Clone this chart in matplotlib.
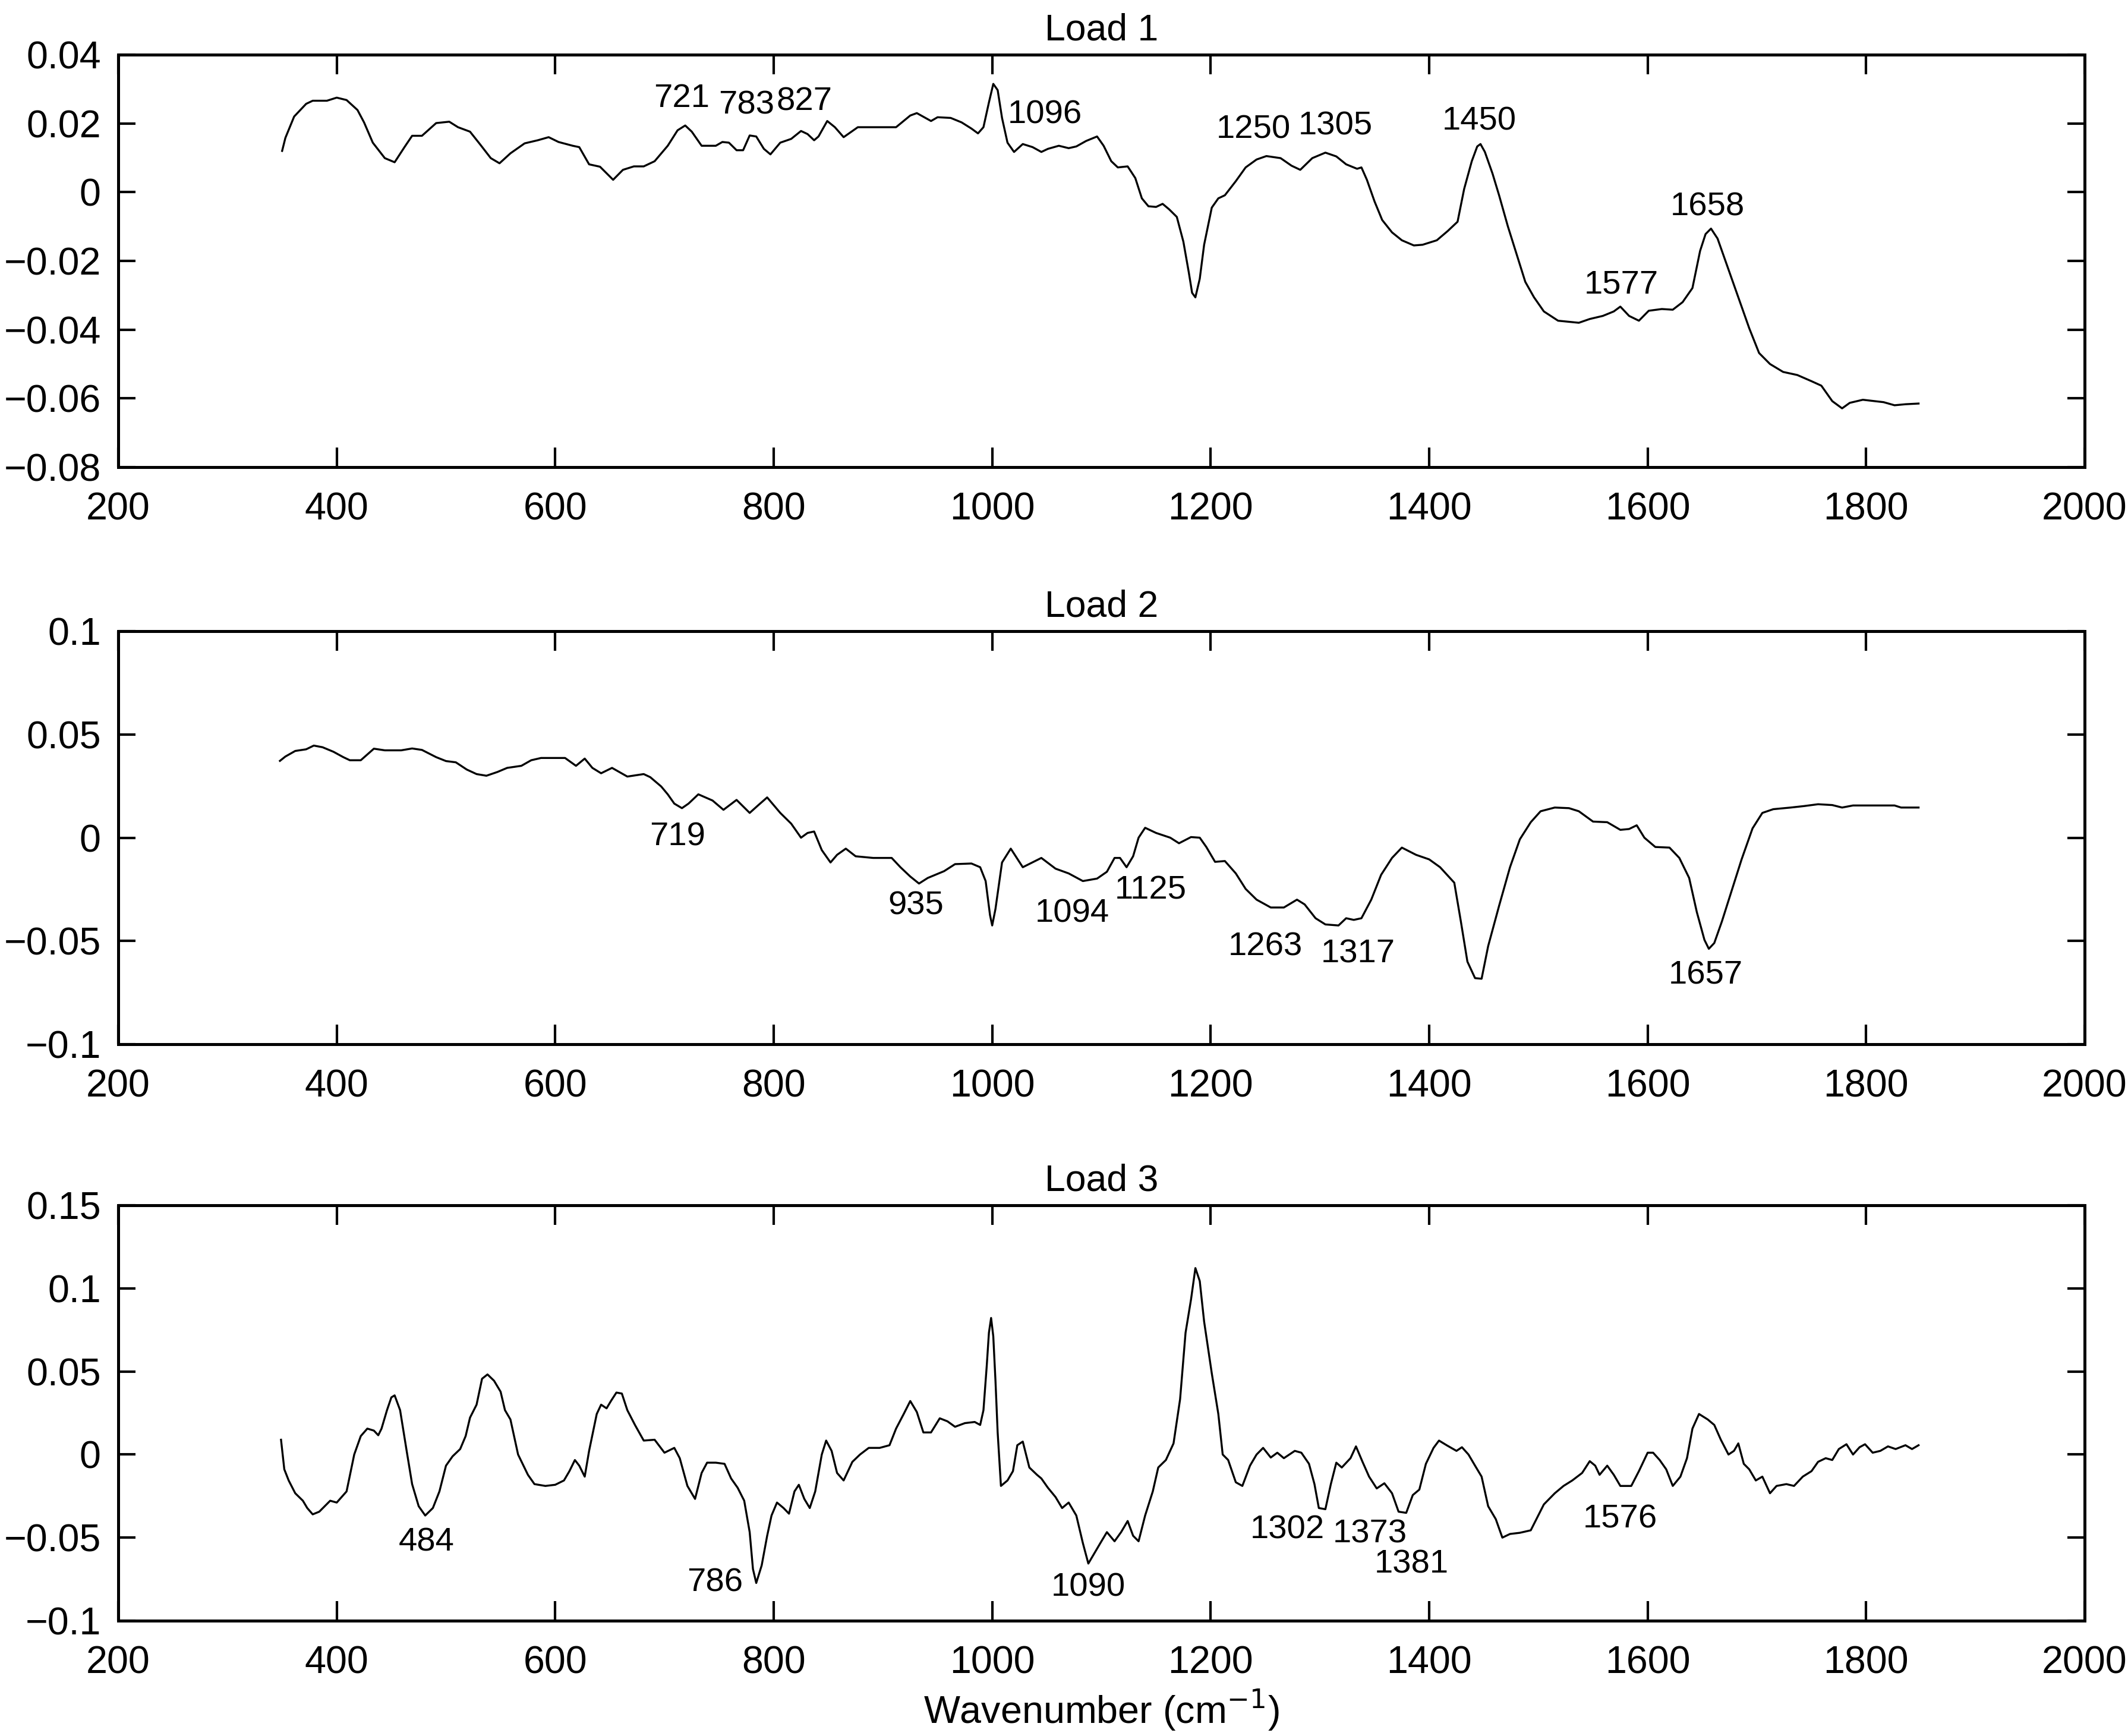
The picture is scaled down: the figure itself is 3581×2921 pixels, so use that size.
import matplotlib
matplotlib.use("Agg")
import matplotlib.pyplot as plt
from matplotlib.ticker import FuncFormatter, MultipleLocator

plt.rcParams['font.family'] = ['Liberation Sans', 'DejaVu Sans']

# ---------------- data ----------------
load1_wn = [350, 353, 361, 372, 378, 391, 400, 409, 419, 425, 433, 444, 453, 462, 469, 478, 491, 503, 511, 522,
            531, 541, 549, 559, 572, 584, 594, 603, 616, 622, 631, 641, 653, 662, 672, 681, 691, 703, 712, 719,
            725, 734, 747, 753, 759, 766, 772, 778, 784, 791, 797, 806, 816, 825, 831, 837, 841, 849, 856, 864,
            877, 912, 925, 931, 944, 950, 962, 972, 981, 987, 992, 997, 1001, 1005, 1009, 1014, 1020, 1028, 1037,
            1045, 1051, 1061, 1070, 1077, 1086, 1096, 1102, 1109, 1115, 1124, 1131, 1137, 1143, 1150, 1156, 1162,
            1169, 1175, 1180, 1183, 1186, 1190, 1194, 1201, 1207, 1213, 1223, 1232, 1242, 1251, 1264, 1274, 1282,
            1293, 1305, 1315, 1324, 1334, 1338, 1343, 1350, 1357, 1366, 1375, 1386, 1394, 1407, 1417, 1426, 1432,
            1439, 1444, 1447, 1451, 1458, 1464, 1472, 1480, 1488, 1496, 1505, 1518, 1537, 1547, 1559, 1569, 1575,
            1583, 1592, 1601, 1613, 1623, 1632, 1641, 1648, 1653, 1658, 1664, 1674, 1683, 1693, 1702, 1712, 1724,
            1737, 1750, 1759, 1769, 1778, 1785, 1797, 1816, 1826, 1836, 1848]
load1_val = [0.012, 0.0158, 0.022, 0.0257, 0.0266, 0.0266, 0.0275, 0.0268, 0.0239, 0.0203, 0.0144, 0.0099, 0.0087,
             0.0131, 0.0164, 0.0164, 0.0201, 0.0205, 0.0189, 0.0176, 0.014, 0.0099, 0.0084, 0.0113, 0.0142, 0.0151,
             0.016, 0.0146, 0.0135, 0.0131, 0.0081, 0.0074, 0.0036, 0.0065, 0.0075, 0.0075, 0.009, 0.0135, 0.018,
             0.0194, 0.0176, 0.0135, 0.0135, 0.0146, 0.0144, 0.0122, 0.0122, 0.0165, 0.0162, 0.0126, 0.011, 0.0144,
             0.0155, 0.0178, 0.0169, 0.0151, 0.0162, 0.0207, 0.0189, 0.016, 0.0189, 0.0189, 0.0223, 0.023, 0.0207,
             0.0218, 0.0216, 0.0203, 0.0185, 0.0171, 0.0189, 0.0261, 0.0315, 0.0297, 0.0216, 0.0144, 0.0117, 0.014,
             0.0131, 0.0117, 0.0126, 0.0135, 0.0128, 0.0133, 0.0149, 0.0162, 0.0135, 0.009, 0.0072, 0.0075, 0.0041,
             -0.0018, -0.0041, -0.0043, -0.0034, -0.005, -0.0072, -0.0144, -0.0234, -0.0293, -0.0306, -0.0252,
             -0.0153, -0.0045, -0.0018, -0.0009, 0.0032, 0.0072, 0.0095, 0.0105, 0.0099, 0.0077, 0.0065, 0.0099,
             0.0115, 0.0104, 0.0081, 0.0068, 0.0072, 0.0036, -0.0027, -0.0081, -0.0117, -0.014, -0.0155, -0.0153,
             -0.014, -0.0113, -0.0086, 0.0009, 0.009, 0.0133, 0.014, 0.0117, 0.0054, -0.0009, -0.0099, -0.018,
             -0.0261, -0.0306, -0.0347, -0.0374, -0.038, -0.0369, -0.036, -0.0347, -0.0333, -0.036, -0.0374, -0.0345,
             -0.034, -0.0342, -0.032, -0.0279, -0.0171, -0.0122, -0.0106, -0.0135, -0.0225, -0.0306, -0.0396,
             -0.0468, -0.05, -0.0523, -0.0532, -0.055, -0.0563, -0.0608, -0.0629, -0.0613, -0.0604, -0.0611,
             -0.062, -0.0617, -0.0615]

load2_wn = [348, 353, 362, 372, 379, 387, 397, 406, 412, 422, 434, 444, 459, 469, 478, 491, 500, 509, 519, 528,
            537, 547, 556, 569, 578, 587, 609, 619, 627, 634, 642, 652, 666, 681, 687, 697, 703, 709, 716, 722,
            731, 744, 754, 766, 778, 786, 794, 806, 816, 825, 831, 837, 844, 852, 858, 866, 875, 891, 908, 916,
            925, 933, 941, 956, 966, 981, 989, 994, 998, 1000, 1003, 1009, 1017, 1028,
            1045, 1058, 1070, 1083, 1096, 1105, 1112, 1117, 1123, 1129, 1134, 1140, 1150, 1163, 1171, 1182, 1190,
            1196, 1204, 1213, 1223, 1232, 1242, 1255, 1267, 1279, 1286, 1296, 1305, 1317, 1324, 1331, 1338, 1347,
            1356, 1366, 1375, 1388, 1400, 1410, 1423, 1429, 1435, 1442, 1448, 1454, 1464, 1474, 1483, 1493, 1502,
            1515, 1528, 1537, 1550, 1563, 1575, 1583, 1590, 1597, 1607, 1620, 1629, 1638, 1645, 1652, 1656, 1661,
            1668, 1677, 1686, 1696, 1705, 1715, 1731, 1743, 1756, 1769, 1778, 1788, 1826, 1832, 1848]
load2_val = [0.0372, 0.0393, 0.042, 0.0428, 0.0446, 0.0438, 0.0416, 0.039, 0.0375, 0.0375, 0.0431, 0.0423, 0.0423,
             0.0432, 0.0425, 0.039, 0.0371, 0.0365, 0.033, 0.0308, 0.03, 0.0318, 0.0338, 0.0348, 0.0375, 0.0386,
             0.0386, 0.0348, 0.0383, 0.0338, 0.0312, 0.0338, 0.0296, 0.0308, 0.0293, 0.0248, 0.021, 0.0165, 0.0143,
             0.0165, 0.021, 0.018, 0.0135, 0.0183, 0.012, 0.0158, 0.0195, 0.012, 0.0068, 0.0, 0.0023, 0.003, -0.006,
             -0.012, -0.0083, -0.0053, -0.009, -0.0098, -0.0098, -0.0143, -0.0188, -0.0222, -0.0195, -0.0162,
             -0.0128, -0.0125, -0.0143, -0.021, -0.0375, -0.0425, -0.0345, -0.012, -0.0053, -0.0143,
             -0.0098, -0.015, -0.0173, -0.021, -0.0198, -0.0165, -0.0098, -0.0098, -0.0143, -0.009, 0.0, 0.0048,
             0.0023, 0.0, -0.0027, 0.0003, 0.0, -0.0045, -0.0117, -0.0113, -0.0173, -0.0248, -0.03, -0.0338,
             -0.0338, -0.03, -0.0323, -0.039, -0.042, -0.0425, -0.039, -0.0398, -0.039, -0.03, -0.018, -0.0098,
             -0.0048, -0.0083, -0.0105, -0.0143, -0.0218, -0.0405, -0.06, -0.068, -0.0683, -0.0525, -0.033,
             -0.0143, -0.0008, 0.0075, 0.0128, 0.0146, 0.0143, 0.0128, 0.0078, 0.0075, 0.0038, 0.0042, 0.006, 0.0,
             -0.0045, -0.0048, -0.0098, -0.0195, -0.036, -0.0495, -0.0538, -0.051, -0.0405, -0.0255, -0.0105,
             0.0045, 0.012, 0.0138, 0.0146, 0.0153, 0.0162, 0.0158, 0.0146, 0.0156, 0.0156, 0.0146, 0.0146]

load3_wn = [349, 352, 356, 362, 369, 373, 378, 384, 394, 400, 409, 416, 422, 428, 434, 438, 441, 446, 450, 453,
            458, 464, 469, 475, 481, 488, 494, 500, 506, 513, 518, 522, 528, 533, 538, 544, 550, 554, 559, 566,
            575, 581, 591, 600, 608, 613, 618, 622, 627, 631, 638, 642, 647, 651, 656, 661, 666, 673, 681, 691,
            700, 709, 714, 721, 728, 734, 739, 747, 755, 761, 767, 773, 778, 781, 784, 789, 794, 798, 803, 809,
            814, 819, 823, 828, 833, 838, 844, 848, 853, 858, 864, 872, 879, 887, 897, 906, 912, 919, 925, 931,
            937, 944, 952, 959, 966, 975, 984, 989, 992, 995, 997, 999, 1001, 1003, 1005, 1008, 1014, 1019, 1023,
            1028, 1034, 1041,
            1045, 1051, 1058, 1064, 1070, 1077, 1083, 1088, 1093, 1099, 1105, 1112, 1118, 1124, 1129, 1134, 1140,
            1147, 1152, 1159, 1166, 1172, 1177, 1182, 1186, 1190, 1194, 1201, 1207, 1211, 1216, 1223, 1229, 1236,
            1242, 1248, 1255, 1261, 1267, 1277, 1283, 1290, 1295, 1299, 1305, 1310, 1315, 1320, 1328, 1333, 1339,
            1345, 1352, 1359, 1366, 1372, 1379, 1385, 1391, 1397, 1404, 1409, 1416, 1425, 1430, 1436, 1442, 1448,
            1454, 1461, 1467, 1474, 1483, 1493, 1499, 1505, 1515, 1523, 1531, 1540, 1547, 1552, 1556, 1563, 1569,
            1575, 1585, 1592, 1600, 1605, 1611, 1617, 1623, 1630, 1636, 1641, 1647, 1655, 1661, 1667, 1674, 1679,
            1683, 1688, 1693, 1699, 1705, 1712, 1718, 1727, 1734, 1742, 1750, 1756, 1763, 1769, 1775, 1782, 1788,
            1794, 1799, 1806, 1813, 1820, 1827, 1836, 1842, 1848]
load3_val = [0.0089, -0.0089, -0.0156, -0.0233, -0.0278, -0.0322, -0.036, -0.0344, -0.0278, -0.0289, -0.0222, 0.0,
             0.0111, 0.0156, 0.0144, 0.0116, 0.0156, 0.0267, 0.0344, 0.0356, 0.0267, 0.0022, -0.0178, -0.0311,
             -0.0367, -0.0322, -0.0222, -0.0067, -0.0011, 0.0033, 0.0111, 0.0222, 0.03, 0.0456, 0.0482, 0.0444,
             0.0378, 0.0267, 0.0211, 0.0, -0.0122, -0.0178, -0.0189, -0.0182, -0.0156, -0.01, -0.0033, -0.0067,
             -0.0133, 0.0022, 0.0244, 0.03, 0.0278, 0.0322, 0.0373, 0.0367, 0.0267, 0.0178, 0.0084, 0.0089, 0.0011,
             0.004, -0.0022, -0.0189, -0.0267, -0.0111, -0.0049, -0.0049, -0.0056, -0.0144, -0.02, -0.0278, -0.0467,
             -0.0689, -0.0773, -0.0667, -0.0489, -0.0367, -0.0289, -0.0322, -0.0356, -0.0222, -0.0182, -0.0267,
             -0.0322, -0.0222, 0.0, 0.0084, 0.0022, -0.0111, -0.0156, -0.0044, 0.0, 0.004, 0.004, 0.0056, 0.0156,
             0.0244, 0.0322, 0.0256, 0.0133, 0.0133, 0.0218, 0.02, 0.0167, 0.0189, 0.0196, 0.0178, 0.0267, 0.0533,
             0.0733, 0.0822, 0.0711, 0.0444, 0.0133, -0.0189, -0.0156, -0.01, 0.0056, 0.0078, -0.0078, -0.0122,
             -0.0144, -0.02, -0.0256, -0.0322, -0.0289, -0.0367, -0.0533, -0.0656, -0.06, -0.0533, -0.0467, -0.0522,
             -0.0467, -0.04, -0.0489, -0.0522, -0.0367, -0.0222, -0.0078, -0.0033, 0.0067, 0.0333, 0.0733, 0.0933,
             0.1122, 0.1044, 0.08, 0.0489, 0.0244, 0.0, -0.0033, -0.0167, -0.0189, -0.0067, 0.0, 0.004, -0.0018,
             0.0011, -0.0022, 0.0022, 0.0011, -0.0056, -0.0178, -0.0322, -0.0329, -0.0178, -0.0049, -0.0078,
             -0.0022, 0.0049, -0.0044, -0.0133, -0.0204, -0.0173, -0.0233, -0.0344, -0.0351, -0.0244, -0.0211,
             -0.0056, 0.004, 0.0084, 0.0056, 0.0022, 0.0044, 0.0, -0.0067, -0.0133, -0.0311, -0.0389, -0.05,
             -0.0478, -0.0471, -0.0456, -0.0378, -0.03, -0.0233, -0.0189, -0.0156, -0.0111, -0.004, -0.0067,
             -0.0122, -0.0067, -0.0122, -0.0189, -0.0189, -0.01, 0.0011, 0.0011, -0.0033, -0.0089, -0.0189,
             -0.0133, -0.0022, 0.0156, 0.0244, 0.0211, 0.0178, 0.0089, 0.0, 0.0022, 0.0067, -0.0056, -0.0089,
             -0.0156, -0.0133, -0.0233, -0.0189, -0.0178, -0.0189, -0.0133, -0.01, -0.0044, -0.0022, -0.0033,
             0.0033, 0.0062, 0.0, 0.0044, 0.0062, 0.0011, 0.0022, 0.0049, 0.0033, 0.0056, 0.0033, 0.0056]

titles = ["Load 1", "Load 2", "Load 3"]
x_ticks = [200, 400, 600, 800, 1000, 1200, 1400, 1600, 1800, 2000]
y_limits = [(-0.08, 0.04), (-0.1, 0.1), (-0.1, 0.15)]
y_steps = [0.02, 0.05, 0.05]

# annotation labels: (text, wavenumber, value)
ann1 = [("721", 716, 0.0272), ("783", 775, 0.0252), ("827", 828, 0.0263), ("1096", 1048, 0.0225),
        ("1250", 1239, 0.0182), ("1305", 1314, 0.0191), ("1450", 1446, 0.0205), ("1577", 1576, -0.027),
        ("1658", 1655, -0.0043)]
ann2 = [("719", 712, 0.0003), ("935", 930, -0.033), ("1094", 1073, -0.0368), ("1125", 1145, -0.0255),
        ("1263", 1250, -0.053), ("1317", 1335, -0.0563), ("1657", 1653, -0.0668)]
ann3 = [("484", 482, -0.0529), ("786", 746, -0.0773), ("1090", 1088, -0.08), ("1302", 1270, -0.0456),
        ("1373", 1346, -0.0478), ("1381", 1384, -0.0662), ("1576", 1575, -0.0389)]

series = [(load1_wn, load1_val, ann1), (load2_wn, load2_val, ann2), (load3_wn, load3_val, ann3)]

# ---------------- figure ----------------
W, H = 3581, 2921
fig = plt.figure(figsize=(W / 300, H / 300), dpi=300)

boxes = [(92, 786), (1062, 1757), (2028, 2727)]
left_px, right_px = 199, 3508
FS_TICK = 15.5
FS_TITLE = 15
FS_ANN = 13.5


def fmt(v, pos):
    s = "{:g}".format(round(v, 6))
    if s == "-0":
        s = "0"
    return s.replace("-", "\u2212")


axes = []
for i, ((top, bot), (wn, val, ann)) in enumerate(zip(boxes, series)):
    ax = fig.add_axes([left_px / W, 1 - bot / H, (right_px - left_px) / W, (bot - top) / H])
    ax.plot(wn, val, color="black", lw=0.8)
    ax.set_xlim(200, 2000)
    ax.set_ylim(*y_limits[i])
    ax.set_xticks(x_ticks)
    ax.yaxis.set_major_locator(MultipleLocator(y_steps[i]))
    ax.yaxis.set_major_formatter(FuncFormatter(fmt))
    ax.tick_params(axis="both", which="major", direction="in", top=True, right=True,
                   labelsize=FS_TICK, width=1.0, color="black")
    ax.tick_params(axis="x", length=8, pad=10)
    ax.tick_params(axis="y", length=7, pad=7)
    for sp in ax.spines.values():
        sp.set_linewidth(1.2)
    ax.set_title(titles[i], fontsize=FS_TITLE, pad=6)
    for txt, x, y in ann:
        ax.text(x, y, txt, fontsize=FS_ANN, ha="center", va="center")
    axes.append(ax)

last = axes[-1]
last.set_xlabel("Wavenumber (cm$^{-1}$)", fontsize=FS_TICK, va="center")
# label centre about 150 px below the bottom spine of the last panel
last.xaxis.set_label_coords(0.5, -150 / (boxes[-1][1] - boxes[-1][0]))

fig.savefig("out.png", dpi=300)
